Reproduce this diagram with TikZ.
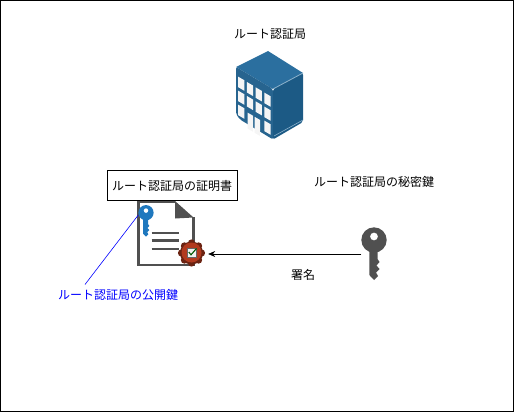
\documentclass[tikz,border=0pt]{standalone}
\usepackage{fontspec}
\setmainfont{Noto Sans CJK JP}
\usetikzlibrary{positioning}
\usetikzlibrary{arrows.meta}
\definecolor{bldtop}{HTML}{2B6F9F}
\definecolor{bldfront}{HTML}{27648F}
\definecolor{bldside}{HTML}{1C5A85}
\definecolor{keygray}{HTML}{505050}
\definecolor{keyblue}{HTML}{1F78BE}
\definecolor{sealred}{HTML}{B23A1E}
\tikzset{
  caption/.style={font=\fontsize{12}{14}\selectfont, inner sep=1pt},
  mark box/.style={inner sep=0pt, minimum width=#1, minimum height=#1},
  win/.style={fill=black!4},
  keyicon/.pic={
    \fill [even odd rule, pic actions] (0,0) circle (12.7) (0,-3.5) circle (4);
    \fill [pic actions] (-4.7,8) -- (-4.7,35) -- (0,40) -- (4,36) -- (2,32.5) -- (5.5,29)
      -- (2.5,25.5) -- (5.5,22) -- (3.5,19) -- (3.5,8) -- cycle;
  }
}
\begin{document}
\begin{tikzpicture}[x=1pt,y=-1pt]
    \useasboundingbox (0,0) rectangle (514,412);
    \draw [line width=0.8pt] (0.5,0.5) rectangle (513.5,411.5);

    \path (270,34) node [caption] (rootlabel) {ルート認証局};

    \fill [bldtop] (236,67) -- (268,51) -- (303,73) -- (273,89) -- cycle;
    \fill [bldfront, rounded corners=2pt] (236,67) -- (273,89) -- (273,139.5) -- (240,119.5) -- (236,114) -- cycle;
    \fill [bldside, rounded corners=2pt] (273,89) -- (303,73) -- (303,122) -- (273,139.5) -- cycle;
    \draw [bldtop!55!white, line width=0.8pt] (273,89) -- (303,73);
    \draw [bldtop!55!white, line width=0.6pt] (274,136) -- (303,120);
    \foreach \col/\row in {0/0,1/0,2/0,3/0,0/1,1/1,2/1,3/1,0/2,3/2} {
      \path [win, shift={(\col*8.7,\col*5.3+\row*14)}]
        (238.2,76.7) -- (244.4,80.3) -- (244.4,90.8) -- (238.2,87.2) -- cycle;
    }
    \foreach \col in {1,2} {
      \path [win, shift={(\col*7,\col*4.2)}]
        (240.7,108.5) -- (246,111.5) -- (246,127.5) -- (240.7,124.5) -- cycle;
    }

    \fill [white] (138.3,201.7) -- (175,201.7) -- (193.3,216.7) -- (193.3,265) -- (138.3,265) -- cycle;
    \draw [keygray, line width=2.6pt, join=miter] (175,201.7) -- (138.3,201.7) -- (138.3,265) -- (193.3,265) -- (193.3,217);
    \fill [keygray] (175,201) -- (193.5,217.5) -- (175,218.5) -- cycle;
    \foreach \y in {232.7,240.3,249} {
      \draw [keygray, line width=2.4pt] (151.7,\y) -- (179.3,\y);
    }

    \path (146,215) node [mark box=15pt] (pubkey) {};
    \path (146,212.7) pic [keyblue, scale=0.6] {keyicon};

    \path (191.5,254) node [mark box=33pt] (seal) {};
    \fill [sealred!60!black] (191.5,253) circle (11.5);
    \foreach \a in {0,45,...,315} {
      \fill [sealred!60!black] (191.5,253) ++(\a:10) circle (3.6);
    }
    \fill [sealred] (191.5,252.5) circle (10);
    \fill [black!5] (187,248) rectangle (196,257);
    \draw [black!60, line width=0.7pt] (187,248) rectangle (196,257);
    \draw [green!35!black, line width=1.1pt] (188.8,252) -- (191,254.8) -- (196.5,248.5);

    \path (374,254) node [mark box=25pt] (privkey) {};
    \path (374,240) pic [keygray] {keyicon};

    \path (172,185.5) node [draw, fill=white, caption, minimum width=130pt, minimum height=30pt] (certlabel) {ルート認証局の証明書};
    \path (374,182) node [caption] (privlabel) {ルート認証局の秘密鍵};
    \path (303,275) node [caption] (signlabel) {署名};
    \path (118,295) node [caption, text=blue] (publabel) {ルート認証局の公開鍵};

    \coordinate (pubend) at (85,284.5);
    \draw [-{Stealth[length=7pt,width=6pt]}, line width=0.6pt] (privkey) -- (seal);
    \draw [blue, line width=0.6pt] (pubkey.west) -- (pubend);
\end{tikzpicture}
\end{document}
